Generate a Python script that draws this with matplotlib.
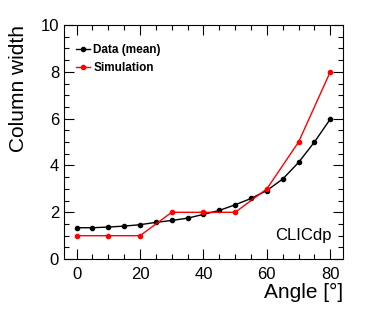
import matplotlib
matplotlib.use("Agg")
import matplotlib.pyplot as plt
from matplotlib.ticker import MultipleLocator

# data
angle_data = [0, 5, 10, 15, 20, 25, 30, 35, 40, 45, 50, 55, 60, 65, 70, 75, 80]
width_data = [1.34, 1.34, 1.37, 1.41, 1.47, 1.57, 1.65, 1.75, 1.91, 2.08,
              2.32, 2.59, 2.93, 3.42, 4.13, 5.0, 5.98]
angle_sim = [0, 10, 20, 30, 40, 50, 60, 70, 80]
width_sim = [1.0, 1.0, 1.0, 2.0, 2.0, 2.0, 3.0, 5.0, 8.0]

plt.rcParams["font.family"] = ["Liberation Sans", "DejaVu Sans"]

fig = plt.figure(figsize=(3.74, 3.16), dpi=100)
ax = fig.add_axes([0.171, 0.180, 0.746, 0.741])

ax.plot(angle_data, width_data, color="black", marker="o", markersize=3,
        linewidth=1.0, label="Data (mean)")
ax.plot(angle_sim, width_sim, color="red", marker="o", markersize=3,
        linewidth=1.0, label="Simulation")

ax.set_xlim(-4, 84)
ax.set_ylim(0, 10)
ax.xaxis.set_major_locator(MultipleLocator(20))
ax.xaxis.set_minor_locator(MultipleLocator(5))
ax.yaxis.set_major_locator(MultipleLocator(2))
ax.yaxis.set_minor_locator(MultipleLocator(0.5))
ax.tick_params(which="both", direction="in", top=True, right=True, labelsize=12)
ax.tick_params(which="major", length=7, width=0.8)
ax.tick_params(which="minor", length=3.5, width=0.8)
ax.tick_params(axis="x", pad=6)
for s in ax.spines.values():
    s.set_linewidth(0.8)

ax.set_xlabel("Angle [°]", fontsize=15, loc="right", labelpad=0)
ax.set_ylabel("Column width", fontsize=15, loc="top", labelpad=9)

leg = ax.legend(loc="upper left", frameon=False,
                prop={"weight": "bold", "size": 8.5}, handlelength=1.2,
                handletextpad=0.3, borderaxespad=0.6, labelspacing=0.55,
                bbox_to_anchor=(0.0, 0.97))
ax.text(0.96, 0.07, "CLICdp", transform=ax.transAxes, fontsize=12,
        ha="right", va="bottom")

fig.savefig("out.png", dpi=100)
